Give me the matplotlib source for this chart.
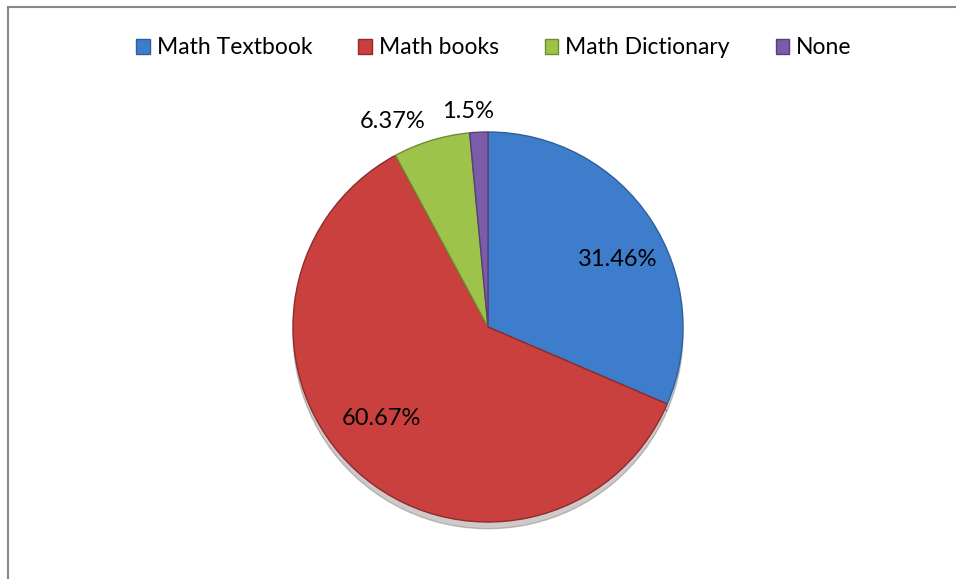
import numpy as np
import matplotlib.pyplot as plt
from matplotlib.patches import Rectangle

categories = ['Math Textbook', 'Math books', 'Math Dictionary', 'None']
shares = [31.46, 60.67, 6.37, 1.5]
pct_labels = ['31.46%', '60.67%', '6.37%', '1.5%']

colors = ['#3E7DCB', '#C9403E', '#9DC34B', '#7C5BA8']
edges = ['#2F5F99', '#8E2C2B', '#6F8C33', '#573F78']

plt.rcParams['font.family'] = ['Lato', 'DejaVu Sans']

W, H = 956, 579
fig = plt.figure(figsize=(W / 100, H / 100), dpi=100)

# chart frame (right and bottom run past the crop)
fig.patches.append(Rectangle((8 / W, -0.1), 1.2, 1 - 7 / H + 0.1, transform=fig.transFigure,
                             fill=False, edgecolor='#888888', linewidth=1.5))

cx, cy, r = 488, 327, 195
span = 1.2
ax = fig.add_axes([(cx - span * r) / W, (H - cy - span * r) / H, 2 * span * r / W, 2 * span * r / H])

wedges, _ = ax.pie(shares, colors=colors, startangle=90, counterclock=False, radius=1,
                   wedgeprops=dict(linewidth=1.0),
                   shadow=dict(ox=0.0, oy=-0.025, shade=0.8, alpha=0.22))
for w, ec in zip(wedges, edges):
    w.set_edgecolor(ec)
ax.set_xlim(-span, span)
ax.set_ylim(-span, span)
ax.set_aspect('equal')
ax.axis('off')

# label placement: distance from centre and angle shift per slice
dist = [0.75, 0.72, 1.16, 1.11]
shift = [-6, -7, 8, 2.5]
for w, lab, d, s in zip(wedges, pct_labels, dist, shift):
    a = np.deg2rad((w.theta1 + w.theta2) / 2 + s)
    ax.text(d * np.cos(a), d * np.sin(a), lab, ha='center', va='center', fontsize=17, color='black')

handles = [Rectangle((0, 0), 1, 1, facecolor=c, edgecolor=e) for c, e in zip(colors, edges)]
fig.legend(handles, categories, loc='center', bbox_to_anchor=(494 / W, 1 - 48 / H), ncol=4,
           frameon=False, fontsize=16.5, handlelength=0.6, handleheight=0.6,
           handletextpad=0.3, columnspacing=2.0)

fig.savefig('out.png', dpi=100, facecolor='white')
